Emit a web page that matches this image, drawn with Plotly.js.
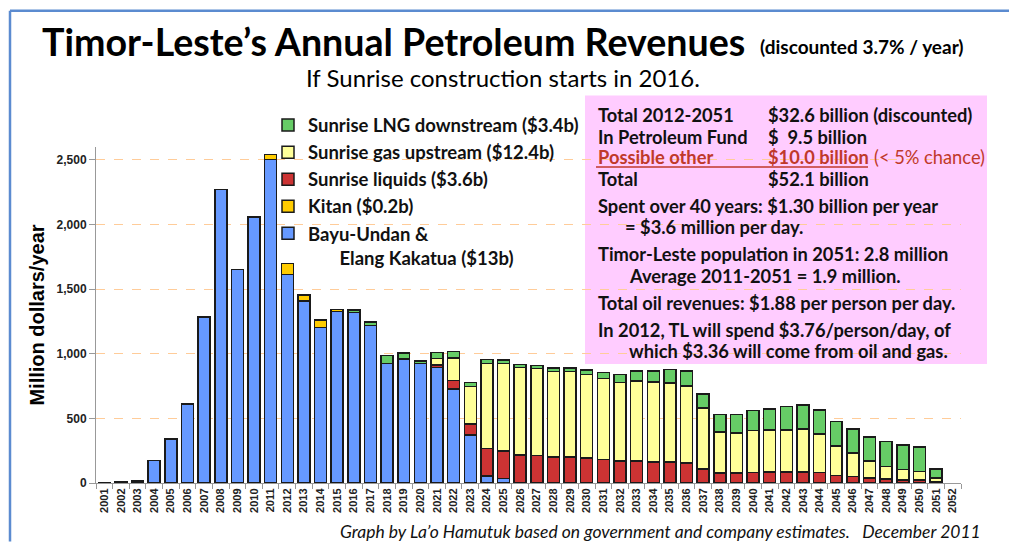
<!DOCTYPE html>
<html>
<head>
<meta charset="utf-8">
<script src="https://cdn.plot.ly/plotly-3.0.1.min.js"></script>
<style>
html,body{margin:0;padding:0;background:#fff;}
#chart{width:1009px;height:542px;}
</style>
</head>
<body>
<div id="chart"></div>
<script>
// ---- Data (million US$ per year, discounted) ----
var years = ["2001","2002","2003","2004","2005","2006","2007","2008","2009","2010",
             "2011","2012","2013","2014","2015","2016","2017","2018","2019","2020",
             "2021","2022","2023","2024","2025","2026","2027","2028","2029","2030",
             "2031","2032","2033","2034","2035","2036","2037","2038","2039","2040",
             "2041","2042","2043","2044","2045","2046","2047","2048","2049","2050",
             "2051","2052"];

var bayuUndan = [3,10,15,174,340,612,1286,2270,1652,2058,
                 2503,1613,1410,1204,1328,1320,1217,926,960,923,
                 895,728,370,56,33,null,null,null,null,null,
                 null,null,null,null,null,null,null,null,null,null,
                 null,null,null,null,null,null,null,null,null,null,
                 null,null];

var kitan = [null,null,null,null,null,null,null,null,null,null,
             40,85,44,57,15,null,null,null,null,null,
             null,null,null,null,null,null,null,null,null,null,
             null,null,null,null,null,null,null,null,null,null,
             null,null,null,null,null,null,null,null,null,null,
             null,null];

var sunriseLiquids = [null,null,null,null,null,null,null,null,null,null,
                      null,null,null,null,null,null,null,null,null,null,
                      18,64,88,211,216,216,211,203,203,195,
                      182,172,172,164,164,154,108,77,77,82,
                      85,85,87,82,59,49,39,31,23,23,
                      6,null];

var sunriseUpstream = [null,null,null,null,null,null,null,null,null,null,
                       null,null,null,null,null,null,null,null,null,null,
                       52,175,288,656,677,677,674,661,659,646,
                       626,605,618,616,608,597,471,317,309,324,
                       326,326,330,298,229,183,133,97,80,67,
                       33,null];

var sunriseLNG = [null,null,null,null,null,null,null,null,null,null,
                  null,null,null,null,null,20,28,59,46,23,
                  43,49,31,31,26,23,26,26,26,34,
                  46,61,77,87,108,114,110,136,146,154,
                  162,180,185,186,188,187,185,193,190,190,
                  71,null];

var seriesNames = ["Bayu-Undan &<br>\u00a0\u00a0\u00a0\u00a0\u00a0\u00a0\u00a0Elang Kakatua ($13b)",
                   "Kitan ($0.2b)",
                   "Sunrise liquids ($3.6b)",
                   "Sunrise gas upstream ($12.4b)",
                   "Sunrise LNG downstream ($3.4b)"];
var seriesColors = ["#6699FF","#FFCC00","#CC3333","#FFFF99","#66CC66"];
var seriesData = [bayuUndan, kitan, sunriseLiquids, sunriseUpstream, sunriseLNG];

// ---- Layout helpers (pixel -> paper) ----
var W = 1009, H = 542;
var mL = 96, mR = 48, mT = 146.5, mB = 58.7;
var pw = W - mL - mR, ph = H - mT - mB;
function px(x){ return (x - mL) / pw; }
function py(y){ return (H - mB - y) / ph; }

var traces = seriesData.map(function(d, i){
  return {
    type: "bar",
    x: years,
    y: d,
    name: seriesNames[i],
    marker: {color: seriesColors[i], line: {color: "#1a1a1a", width: 1.5}},
    hoverinfo: "x+y+name"
  };
});

var FS = 18.3;
var boxFont = {family: "Lato, 'Open Sans', sans-serif", size: FS, color: "#111", weight: 700};
var redFont = {family: "Lato, 'Open Sans', sans-serif", size: FS, color: "#C0392B", weight: 700};
var redFontReg = {family: "Lato, 'Open Sans', sans-serif", size: FS, color: "#C0392B", weight: 400};

function ann(text, x, y, font, anchor){
  return {text: text, xref: "paper", yref: "paper", x: px(x), y: py(y),
          xanchor: anchor || "left", yanchor: "middle", showarrow: false, font: font};
}

var annotations = [
  ann("Timor-Leste\u2019s Annual Petroleum Revenues", 40, 41,
      {family: "Lato, sans-serif", size: 37.6, color: "#000", weight: 700}),
  ann("(discounted 3.7% / year)", 966, 46,
      {family: "Lato, sans-serif", size: 19, color: "#000", weight: 700}, "right"),
  ann("If Sunrise construction starts in 2016.", 503, 77,
      {family: "Lato, sans-serif", size: 24, color: "#000", weight: 400}, "center"),

  ann("Total 2012-2051", 596, 114, boxFont),
  ann("$32.6 billion (discounted)", 766, 114, boxFont),
  ann("In Petroleum Fund", 596, 136, boxFont),
  ann("$\u00a0\u00a09.5 billion", 766, 136, boxFont),
  ann("Possible other", 596, 157, redFont),
  ann("$10.0 billion", 766, 157, redFont),
  ann("(< 5% chance)", 872, 157, redFontReg),
  ann("Total", 596, 179, boxFont),
  ann("$52.1 billion", 766, 179, boxFont),
  ann("Spent over 40 years: $1.30 billion per year", 596, 206, boxFont),
  ann("= $3.6 million per day.", 623, 227, boxFont),
  ann("Timor-Leste population in 2051: 2.8 million", 596, 254, boxFont),
  ann("Average 2011-2051 = 1.9 million.", 627, 276, boxFont),
  ann("Total oil revenues: $1.88 per person per day.", 596, 303, boxFont),
  ann("In 2012, TL will spend $3.76/person/day, of", 596, 330, boxFont),
  ann("which $3.36 will come from oil and gas.", 627, 351, boxFont),

  ann("Graph by La\u2019o Hamutuk based on government and company estimates.\u00a0\u00a0\u00a0December 2011", 983, 532,
      {family: "Lato, sans-serif", size: 17.5, color: "#111", style: "italic"}, "right")
];

var shapes = [
  // pink info box
  {type: "rect", xref: "paper", yref: "paper", x0: px(585), x1: px(987), y0: py(364), y1: py(95),
   fillcolor: "#FFCCFF", line: {width: 0}, layer: "between"},
  // red underline in the info box
  {type: "line", xref: "paper", yref: "paper", x0: px(596), x1: px(868), y0: py(166.5), y1: py(166.5),
   line: {color: "#C0392B", width: 1.5}},
  // frame lines
  {type: "line", xref: "paper", yref: "paper", x0: px(10), x1: px(1009), y0: py(10), y1: py(10),
   line: {color: "#5B8BD0", width: 2.5}},
  {type: "line", xref: "paper", yref: "paper", x0: px(10), x1: px(10), y0: py(10), y1: py(542),
   line: {color: "#5B8BD0", width: 2.5}}
];

var layout = {
  width: W, height: H,
  margin: {l: mL, r: mR, t: mT, b: mB, pad: 0},
  paper_bgcolor: "#fff",
  plot_bgcolor: "rgba(0,0,0,0)",
  barmode: "stack",
  bargap: 0.28,
  showlegend: true,
  legend: {
    x: px(268), y: py(106), xanchor: "left", yanchor: "top",
    traceorder: "reversed", valign: "top",
    bgcolor: "rgba(0,0,0,0)",
    font: {family: "Lato, sans-serif", size: 18.5, color: "#111", weight: 700}
  },
  xaxis: {
    type: "category",
    range: [-0.5, 51.5],
    showline: true, linecolor: "#999", linewidth: 1,
    ticks: "outside", tickson: "boundaries", ticklen: 5, tickcolor: "#999",
    tickangle: -90,
    tickfont: {family: "'Liberation Sans', Arial, sans-serif", size: 11, color: "#222", weight: 700},
    showgrid: false, zeroline: false, fixedrange: true
  },
  yaxis: {
    range: [0, 2600],
    tickmode: "array",
    tickvals: [0, 500, 1000, 1500, 2000, 2500],
    tickformat: ",d",
    showline: true, linecolor: "#999", linewidth: 1,
    ticks: "outside", ticklen: 6, tickcolor: "#999",
    tickfont: {family: "'Liberation Sans', Arial, sans-serif", size: 12, color: "#222", weight: 700},
    showgrid: true, gridcolor: "#FFCC99", griddash: "dash", gridwidth: 1,
    zeroline: false, fixedrange: true,
    title: {text: "Million dollars/year", standoff: 6,
            font: {family: "'Liberation Sans', Arial, sans-serif", size: 20, color: "#000", weight: 700}}
  },
  annotations: annotations,
  shapes: shapes
};

Plotly.newPlot("chart", traces, layout, {displayModeBar: false, staticPlot: true});
</script>
</body>
</html>
